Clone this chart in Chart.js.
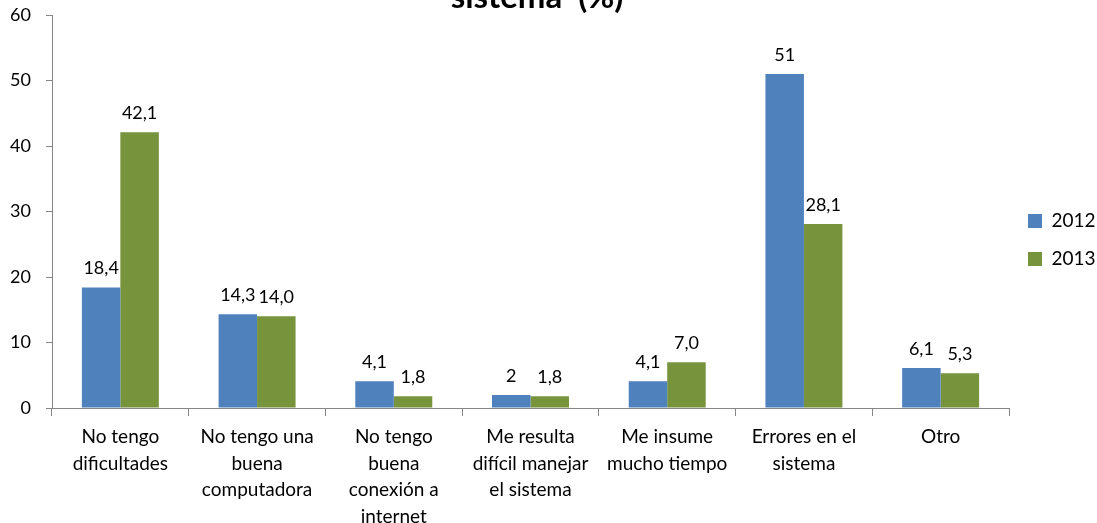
<!DOCTYPE html>
<html>
<head>
<meta charset="utf-8">
<script src="https://cdn.jsdelivr.net/npm/chart.js@4"></script>
<style>
  body { margin: 0; background: #fff; }
  #wrap { width: 1097px; height: 523px; }
</style>
</head>
<body>
<div id="wrap"><canvas id="barChart" width="1097" height="523"></canvas></div>
<script>
const categories = [
    ["No tengo", "dificultades"],
    ["No tengo una", "buena", "computadora"],
    ["No tengo", "buena", "conexión a", "internet"],
    ["Me resulta", "difícil manejar", "el sistema"],
    ["Me insume", "mucho tiempo"],
    ["Errores en el", "sistema"],
    ["Otro"]
];
const values2012 = [18.4, 14.3, 4.1, 2, 4.1, 51, 6.1];
const values2013 = [42.1, 14.0, 1.8, 1.8, 7.0, 28.1, 5.3];
const yTicks = [0, 10, 20, 30, 40, 50, 60];

const font = "Lato, 'Open Sans', sans-serif";

// 2012 labels keep their own precision, 2013 always shows one decimal
const formatters = [
    v => String(v).replace(".", ","),
    v => v.toFixed(1).replace(".", ",")
];

// value labels above each bar
const barLabels = {
    id: "barLabels",
    afterDatasetsDraw(chart) {
        const ctx = chart.ctx;
        ctx.save();
        ctx.font = "18px " + font;
        ctx.fillStyle = "#000";
        ctx.textAlign = "center";
        ctx.textBaseline = "alphabetic";
        chart.data.datasets.forEach((ds, i) => {
            chart.getDatasetMeta(i).data.forEach((bar, j) => {
                ctx.fillText(formatters[i](ds.data[j]), bar.x, bar.y - 13);
            });
        });
        ctx.restore();
    }
};

// heading sits partly above the top edge
const heading = {
    id: "heading",
    afterDraw(chart) {
        const ctx = chart.ctx;
        ctx.save();
        ctx.font = "bold 33px " + font;
        ctx.fillStyle = "#000";
        ctx.textAlign = "center";
        ctx.textBaseline = "alphabetic";
        ctx.fillText("sistema  (%)", 537, 8);
        ctx.restore();
    }
};

// pull the legend up a little from the vertical centre
const legendShift = {
    id: "legendShift",
    afterLayout(chart) {
        const lg = chart.legend;
        if (!lg) return;
        lg.top -= 29;
        lg.bottom -= 29;
    }
};

new Chart(document.getElementById("barChart").getContext("2d"), {
    type: "bar",
    data: {
        labels: categories,
        datasets: [
            { label: "2012", data: values2012, backgroundColor: "#4F81BD" },
            { label: "2013", data: values2013, backgroundColor: "#77933C" }
        ]
    },
    options: {
        responsive: false,
        animation: false,
        layout: { padding: { top: 15, right: 0, left: 0, bottom: 0 } },
        datasets: { bar: { categoryPercentage: 0.563, barPercentage: 1 } },
        plugins: {
            legend: {
                position: "right",
                maxWidth: 88,
                labels: {
                    boxWidth: 14,
                    boxHeight: 14,
                    padding: 19,
                    color: "#000",
                    font: { family: font, size: 19 }
                }
            },
            tooltip: { enabled: false }
        },
        scales: {
            x: {
                grid: { display: true, drawOnChartArea: false, offset: true, color: "#868686", tickLength: 8 },
                border: { color: "#868686" },
                ticks: { color: "#000", font: { family: font, size: 19, lineHeight: 1.39 }, maxRotation: 0, padding: 8 },
                afterFit(scale) { scale.height = 115; }
            },
            y: {
                min: 0,
                max: 60,
                afterBuildTicks(scale) { scale.ticks = yTicks.map(v => ({ value: v })); },
                grid: { display: true, drawOnChartArea: false, color: "#868686", tickLength: 6 },
                border: { color: "#868686" },
                ticks: { color: "#000", font: { family: font, size: 18 }, padding: 15 },
                afterFit(scale) {
                    scale.width = 52;
                    scale.paddingTop = 0;
                    scale.paddingBottom = 0;
                }
            }
        }
    },
    plugins: [barLabels, heading, legendShift]
});
</script>
</body>
</html>
